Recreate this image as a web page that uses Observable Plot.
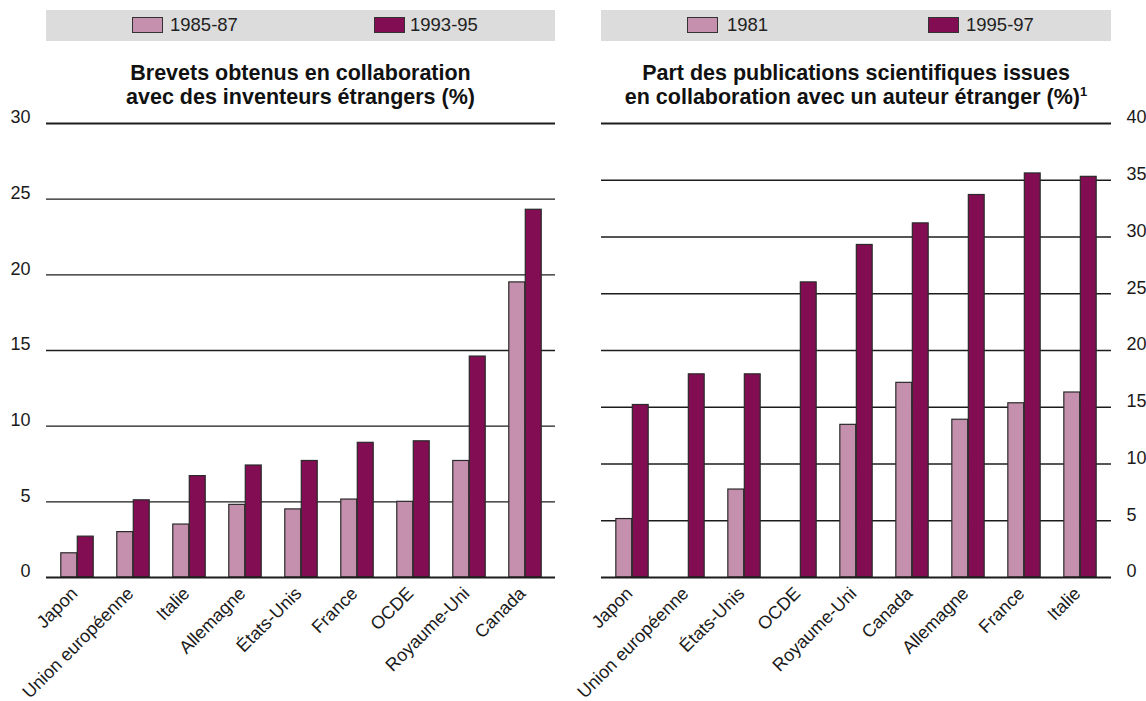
<!DOCTYPE html>
<html><head><meta charset="utf-8">
<script src="https://cdn.jsdelivr.net/npm/d3@7"></script>
<script src="https://cdn.jsdelivr.net/npm/@observablehq/plot@0.6"></script>
<style>
body{margin:0;background:#fff;width:1146px;height:701px;position:relative;overflow:hidden;font-family:"Liberation Sans",Arial,Helvetica,sans-serif;color:#1a1a1a;}
.legend{position:absolute;top:10px;height:31px;background:#dcdcdc;}
.sw{position:absolute;top:7px;width:29px;height:14px;border:1px solid #333;}
.lt{position:absolute;top:5px;font-size:18.5px;line-height:20px;color:#222;}
.title{position:absolute;top:61px;text-align:center;font-weight:bold;font-size:21.5px;line-height:24px;color:#111;}
.title sup{font-size:13px;line-height:0;vertical-align:8px;}
.chart{position:absolute;top:100px;}
.chart svg{overflow:visible;}
</style></head><body>
<div class="legend" id="legL" style="left:46px;width:509px;"></div>
<div class="legend" id="legR" style="left:601px;width:510px;"></div>
<div class="title" style="left:46px;width:509px;">Brevets obtenus en collaboration<br>avec des inventeurs étrangers (%)</div>
<div class="title" style="left:601px;width:510px;">Part des publications scientifiques issues<br>en collaboration avec un auteur étranger (%)<sup>1</sup></div>
<div class="chart" id="cL" style="left:0px;"></div>
<div class="chart" id="cR" style="left:573px;"></div>
<script>
// ---- Data ----
const patentCountries = ["Japon","Union européenne","Italie","Allemagne","États-Unis","France","OCDE","Royaume-Uni","Canada"];
const patents1985_87 = [1.6, 3.0, 3.5, 4.8, 4.5, 5.15, 5.0, 7.7, 19.5];
const patents1993_95 = [2.7, 5.1, 6.7, 7.4, 7.7, 8.9, 9.0, 14.6, 24.3];
const patentSeries = ["1985-87","1993-95"];
const patentTicks = [0, 5, 10, 15, 20, 25, 30];

const pubCountries = ["Japon","Union européenne","États-Unis","OCDE","Royaume-Uni","Canada","Allemagne","France","Italie"];
const pubs1981 = [5.15, null, 7.75, null, 13.45, 17.15, 13.9, 15.35, 16.3];
const pubs1995_97 = [15.2, 17.9, 17.9, 26.0, 29.3, 31.2, 33.7, 35.6, 35.3];
const pubSeries = ["1981","1995-97"];
const pubTicks = [0, 5, 10, 15, 20, 25, 30, 35, 40];

const colors = ["#c590ae", "#830d52"];

function legend(el, series, layout){
  series.forEach((s,i)=>{
    const sw=document.createElement("div"); sw.className="sw";
    sw.style.left=layout[i][0]+"px"; sw.style.background=colors[i];
    const t=document.createElement("div"); t.className="lt";
    t.style.left=layout[i][1]+"px"; t.textContent=s;
    el.appendChild(sw); el.appendChild(t);
  });
}
legend(document.getElementById("legL"), patentSeries, [[86,124],[328,364]]);
legend(document.getElementById("legR"), pubSeries, [[86,126],[327,365]]);

function chart({categories, a, b, ticks, mL, mR, right}){
  const W=573, H=601, mT=23, mB=124;
  const bw=(W-mL-mR)/categories.length, half=16.5;
  const rows=categories.map((c,i)=>({c, a:a[i], b:b[i]}));
  const max=ticks[ticks.length-1];
  const inner=ticks.filter(t=>t!==0 && t!==max);
  return Plot.plot({
    width:W, height:H, marginLeft:mL, marginRight:mR, marginTop:mT, marginBottom:mB,
    style:{background:"transparent", overflow:"visible", fontFamily:"'Liberation Sans',Arial,sans-serif"},
    x:{type:"band", domain:categories, padding:0, axis:null},
    y:{domain:[0,max], axis:null},
    marks:[
      Plot.ruleY(inner, {stroke:"#1c1c1c", strokeWidth:1.3}),
      Plot.ruleY([max], {stroke:"#1c1c1c", strokeWidth:2}),
      Plot.barY(rows.filter(d=>d.a!=null), {x:"c", y:"a", fill:colors[0], stroke:"#2a2a2a", strokeWidth:1.2, insetLeft:bw/2-half, insetRight:bw/2}),
      Plot.barY(rows.filter(d=>d.b!=null), {x:"c", y:"b", fill:colors[1], stroke:"#2a2a2a", strokeWidth:1.2, insetLeft:bw/2, insetRight:bw/2-half}),
      Plot.ruleY([0], {stroke:"#1c1c1c", strokeWidth:2}),
      Plot.text(ticks, {y:d=>d, text:d=>String(d), frameAnchor:right?"right":"left",
        textAnchor:right?"start":"end", dx:right?15:-16, dy:-6, fontSize:18, fill:"#1a1a1a"}),
      Plot.text(categories, {x:d=>d, y:()=>0, text:d=>d, rotate:-45, textAnchor:"end", lineAnchor:"middle",
        dx:-3, dy:13, fontSize:18, fill:"#1a1a1a"})
    ]
  });
}
document.getElementById("cL").appendChild(chart({categories:patentCountries, a:patents1985_87, b:patents1993_95, ticks:patentTicks, mL:46, mR:18, right:false}));
document.getElementById("cR").appendChild(chart({categories:pubCountries, a:pubs1981, b:pubs1995_97, ticks:pubTicks, mL:28, mR:35, right:true}));
</script>
</body></html>
